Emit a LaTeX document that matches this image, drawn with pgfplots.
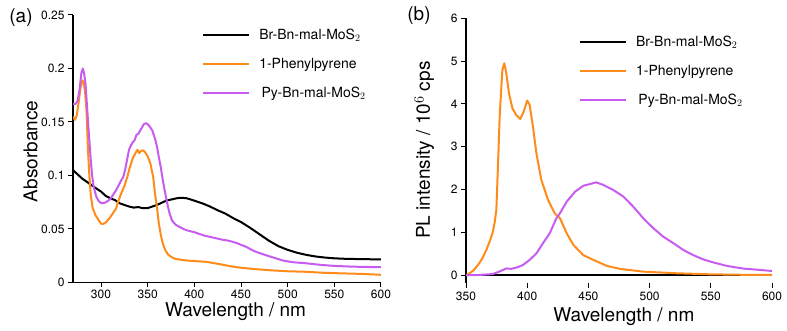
\documentclass[border=0pt]{standalone}
\usepackage{fontspec}
\setmainfont{TeX Gyre Heros}
\usepackage{pgfplots}
\pgfplotsset{compat=1.18}
\definecolor{cor}{RGB}{255,140,26}
\definecolor{cpu}{RGB}{200,92,240}
\pgfplotsset{
  mystyle/.style={
    scale only axis, axis lines=left, axis line style={-, line width=1.2pt},
    tick align=outside, major tick length=5pt,
    every tick/.style={black, line width=1pt},
    ticklabel style={font=\fontsize{12}{14}\selectfont},
    label style={font=\fontsize{19}{22}\selectfont},
    legend style={draw=none, fill=none, font=\fontsize{14}{16}\selectfont,
      row sep=13pt, column sep=7pt, inner sep=0pt, nodes={inner sep=2pt}},
    legend cell align=left,
    legend image code/.code={\draw[##1] (0pt,0pt) -- (46pt,0pt);},
  },
  dl/.style={line width=2pt, line join=round},
}
\begin{document}
\begin{tikzpicture}
\useasboundingbox (0pt,0pt) rectangle (787pt,331pt);
\node[font=\fontsize{19}{22}\selectfont] at (21pt,313pt) {(a)};
\node[font=\fontsize{19}{22}\selectfont] at (419pt,315pt) {(b)};
% ---------------- panel (a)
\begin{axis}[mystyle,
  at={(73pt,48.5pt)}, anchor=south west,
  width=308pt, height=267.5pt,
  xmin=270, xmax=600, ymin=0, ymax=0.25,
  xtick={300,350,400,450,500,550,600},
  xticklabels={300,350,400,450,500,550,600},
  xticklabel style={yshift=1.5pt},
  ytick={0,0.05,0.1,0.15,0.2,0.25},
  yticklabels={0,0.05,0.1,0.15,0.2,0.25},
  xlabel={Wavelength / nm}, ylabel={Absorbance},
  xlabel style={at={(axis description cs:0.528,-0.127)}, anchor=base},
  ylabel style={at={(axis description cs:-0.116,0.49)}, anchor=base},
  legend style={at={(rel axis cs:0.419,0.955)}, anchor=north west},
]
\addplot[black, dl] coordinates {
(270,0.105)(275,0.101)(280,0.097)(285,0.094)(292,0.0896)(300,0.085)(305,0.081)
(310,0.0787)(315,0.077)(320,0.074)(325,0.0725)(330,0.071)(335,0.070)(340,0.0705)
(345,0.0694)(350,0.0695)(355,0.071)(360,0.0725)(365,0.0745)(370,0.0765)(375,0.0775)
(381,0.0787)(386,0.0792)(392,0.0787)(400,0.0765)(410,0.0735)(417,0.0709)(425,0.0675)
(433,0.0645)(442,0.060)(450,0.0565)(460,0.051)(470,0.045)(480,0.039)(490,0.034)
(500,0.0305)(510,0.0278)(520,0.0258)(530,0.0243)(540,0.0233)(550,0.0226)(560,0.0222)
(575,0.0219)(590,0.0217)(600,0.0216)};
\addlegendentry{Br-Bn-mal-MoS$_2$}
\addplot[cor, dl] coordinates {
(270,0.155)(272,0.152)(274,0.156)(276,0.168)(278,0.182)(280,0.189)(281.5,0.187)
(283,0.177)(284.5,0.160)(286,0.125)(287.5,0.100)(289,0.082)(291,0.070)(294,0.063)
(297,0.059)(300,0.055)(302,0.0547)(305,0.056)(309,0.060)(313,0.065)(316,0.069)
(319,0.077)(322,0.084)(325,0.090)(328,0.098)(331,0.108)(334,0.116)(337,0.121)
(339,0.124)(341,0.121)(343,0.123)(345,0.1235)(347,0.122)(350,0.118)(353,0.111)
(356,0.098)(358,0.082)(360,0.070)(362,0.055)(364,0.045)(366,0.037)(369,0.030)
(372,0.026)(376,0.0235)(380,0.022)(390,0.0207)(400,0.020)(412,0.0194)(425,0.0175)
(440,0.015)(450,0.0138)(465,0.0125)(480,0.0115)(500,0.0105)(520,0.010)(540,0.009)
(560,0.0085)(580,0.008)(600,0.0072)};
\addlegendentry{1-Phenylpyrene}
\addplot[cpu, dl] coordinates {
(270,0.167)(273,0.167)(275,0.170)(277,0.180)(279,0.196)(280.5,0.200)(282,0.195)
(283.5,0.185)(285,0.165)(287,0.139)(289,0.115)(290.5,0.100)(292,0.090)(295,0.080)
(298,0.0755)(301,0.074)(304,0.0745)(307,0.076)(310,0.078)(313,0.082)(316,0.086)
(319,0.091)(322,0.096)(324,0.099)(326,0.106)(328,0.115)(330,0.124)(332,0.128)
(334,0.131)(336,0.133)(338,0.138)(340,0.139)(342,0.142)(344,0.145)(346,0.148)
(348,0.1488)(350,0.148)(352,0.146)(355,0.142)(358,0.134)(360,0.127)(362,0.117)
(364,0.108)(366,0.097)(368,0.087)(370.5,0.076)(373,0.066)(376,0.058)(380,0.054)
(385,0.0515)(391,0.049)(400,0.047)(410,0.044)(420,0.042)(430,0.040)(437,0.039)
(445,0.037)(455,0.0335)(465,0.029)(475,0.026)(484,0.0235)(495,0.0205)(505,0.019)
(519,0.018)(535,0.0165)(550,0.0155)(570,0.0148)(585,0.0145)(600,0.0144)};
\addlegendentry{\,Py-Bn-mal-MoS$_2$}
\end{axis}
% ---------------- panel (b)
\begin{axis}[mystyle,
  at={(466pt,48pt)}, anchor=south west,
  width=306pt, height=264.7pt,
  xmin=350, xmax=600, ymin=-0.18, ymax=6,
  x axis line style={draw=none},
  xtick={350,400,450,500,550,600},
  xticklabels={350,400,450,500,550,600},
  ytick={0,1,2,3,4,5,6},
  yticklabels={0,1,2,3,4,5,6},
  xlabel={Wavelength / nm}, ylabel={PL intensity / 10$^6$ cps},
  xlabel style={at={(axis description cs:0.516,-0.146)}, anchor=base},
  ylabel style={at={(axis description cs:-0.118,0.502)}, anchor=base},
  legend style={at={(rel axis cs:0.369,0.94)}, anchor=north west},
]
\addplot[black, dl] coordinates {(350,0)(400,0)(450,0)(500,0)(550,0)(600,0)};
\addlegendentry{Br-Bn-mal-MoS$_2$}
\addplot[cor, dl] coordinates {
(350,0)(353,0.05)(356,0.11)(359.8,0.24)(363,0.38)(366.6,0.59)(370,0.84)(372,1.02)
(373.5,1.25)(374.8,1.53)(376.1,2.54)(377.5,3.7)(379,4.45)(379.7,4.79)(381.3,4.95)
(382.9,4.72)(385.1,4.25)(387.9,3.9)(391.1,3.74)(394.4,3.65)(397.1,3.82)(400,4.08)
(402,3.98)(404.7,3.47)(407.5,2.85)(411.5,2.23)(417,1.76)(422.4,1.45)(426.8,1.33)
(432.3,0.98)(437.7,0.71)(445.8,0.47)(454,0.36)(465,0.22)(475.8,0.15)(494.9,0.085)
(522,0.047)(549.3,0.023)(575,0.012)(600,0.008)};
\addlegendentry{1-Phenylpyrene}
\addplot[cpu, dl] coordinates {
(350,0)(360,0.005)(372,0.03)(377.5,0.09)(383,0.16)(387,0.15)(392.4,0.19)(396.5,0.24)
(402,0.36)(407.5,0.51)(412.9,0.75)(418.4,0.98)(423.8,1.33)(426.8,1.45)(432.3,1.72)
(439,1.95)(445.8,2.09)(451.3,2.13)(456.2,2.17)(462.2,2.11)(470.4,1.99)(478.5,1.84)
(486.7,1.60)(494.9,1.33)(503,1.10)(511.2,0.90)(519.4,0.75)(527.6,0.59)(535.7,0.47)
(543.9,0.37)(552.1,0.30)(563,0.22)(576.6,0.156)(590.3,0.125)(600,0.10)};
\addlegendentry{\,Py-Bn-mal-MoS$_2$}
\end{axis}
\end{tikzpicture}
\end{document}
